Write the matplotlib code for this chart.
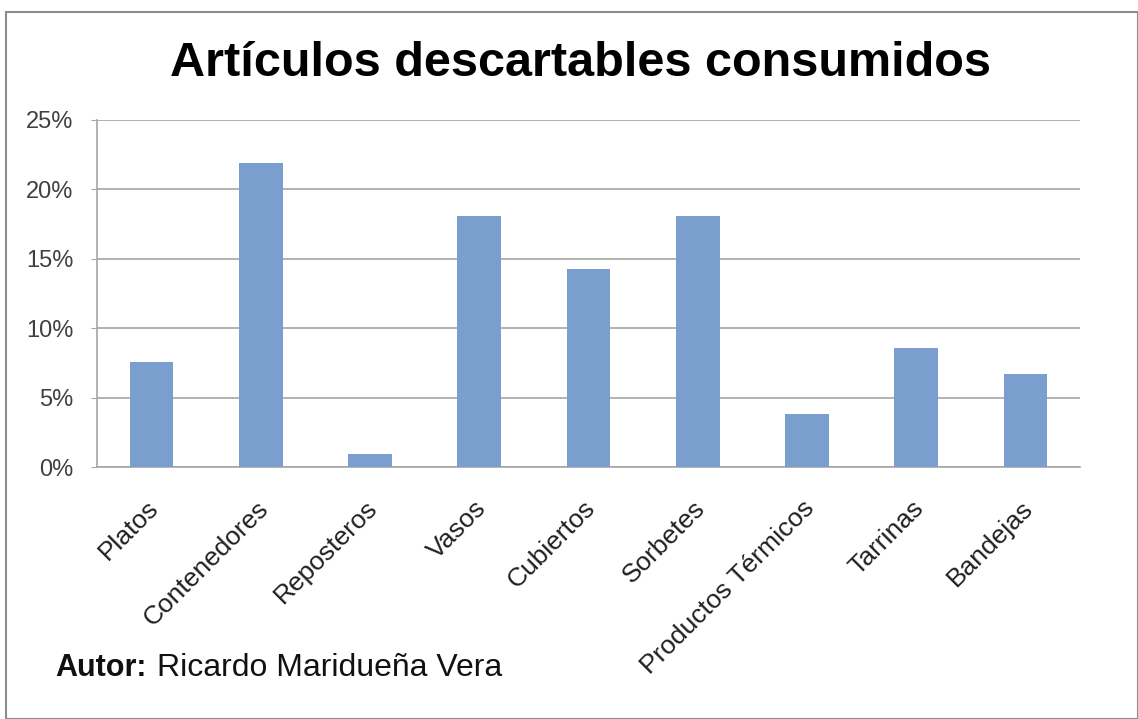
import matplotlib
matplotlib.use("Agg")
import matplotlib.pyplot as plt
from matplotlib.patches import Rectangle
from matplotlib.ticker import FuncFormatter, MultipleLocator
from matplotlib.transforms import ScaledTranslation

categories = ["Platos", "Contenedores", "Reposteros", "Vasos", "Cubiertos",
              "Sorbetes", "Productos Térmicos", "Tarrinas", "Bandejas"]
values = [7.6, 21.9, 0.95, 18.1, 14.3, 18.1, 3.85, 8.6, 6.7]
title = "Artículos descartables consumidos"

plt.rcParams['font.family'] = ['Liberation Sans', 'DejaVu Sans']

W, H = 1138, 719
fig = plt.figure(figsize=(W / 100, H / 100), dpi=100)
fig.patch.set_facecolor('white')

# outer chart border
fig.add_artist(Rectangle((6 / W, 0), (W - 6) / W, (H - 12) / H, transform=fig.transFigure,
                         fill=False, edgecolor='#8c8c8c', linewidth=1.5))

ax = fig.add_axes([97 / W, 1 - 467 / H, (1080 - 97) / W, (467 - 120) / H])
x = list(range(len(categories)))
ax.bar(x, values, width=0.4, color='#7A9FCF', zorder=3)
ax.set_xlim(-0.5, len(categories) - 0.5)
ax.set_ylim(0, 25)
ax.yaxis.set_major_locator(MultipleLocator(5))
ax.yaxis.set_major_formatter(FuncFormatter(lambda v, p: f"{v:.0f}%"))
ax.grid(axis='y', color='#a6a6a6', linewidth=1.2, zorder=0)
for s in ['top', 'right']:
    ax.spines[s].set_visible(False)
ax.spines['left'].set_color('#a6a6a6')
ax.spines['bottom'].set_color('#a6a6a6')
ax.spines['left'].set_linewidth(1.2)
ax.spines['bottom'].set_linewidth(1.2)
ax.tick_params(axis='y', length=4, color='#a6a6a6', labelsize=17, labelcolor='#404040', pad=13)
ax.tick_params(axis='x', length=0, labelsize=19, labelcolor='#202020', pad=21)
ax.set_xticks(x)
ax.set_xticklabels(categories, rotation=45, ha='right', rotation_mode='anchor')
off = ScaledTranslation(-5 / 100, 0, fig.dpi_scale_trans)
for lab in ax.get_xticklabels():
    lab.set_transform(lab.get_transform() + off)

fig.text(580 / W, 1 - 64 / H, title, ha='center', va='center',
         fontsize=35, fontweight='bold', color='black')

fig.text(55 / W, 1 - 668 / H, "Autor:", ha='left', va='center', fontsize=22,
         fontweight='bold', color='#111111')
fig.text(157 / W, 1 - 668 / H, "Ricardo Maridueña Vera", ha='left', va='center',
         fontsize=23, color='#111111')

fig.savefig("out.png", dpi=100)
